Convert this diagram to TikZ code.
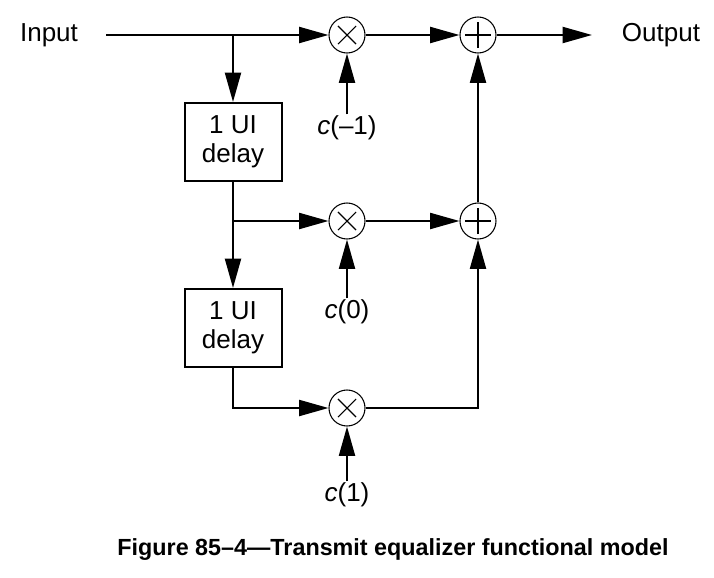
\documentclass[tikz,border=0pt]{standalone}
\usepackage{fontspec}
\setmainfont{Liberation Sans}
\usetikzlibrary{arrows.meta}

\begin{document}
\begin{tikzpicture}[x=0.75pt,y=-0.75pt,
    font=\fontsize{19.5}{22}\selectfont,
    sig/.style={line width=1.5pt,-{Triangle[length=22pt,width=12pt]}},
    wire/.style={line width=1.5pt},
    mult/.style={circle,draw,line width=0.8pt,minimum size=27pt,inner sep=0pt,
      path picture={\draw[line width=0.8pt]
        ([shift={(-6.8pt,-6.8pt)}]path picture bounding box.center) -- ([shift={(6.8pt,6.8pt)}]path picture bounding box.center)
        ([shift={(-6.8pt,6.8pt)}]path picture bounding box.center) -- ([shift={(6.8pt,-6.8pt)}]path picture bounding box.center);}},
    adder/.style={circle,draw,line width=0.8pt,minimum size=27pt,inner sep=0pt,
      path picture={\draw[line width=1.5pt]
        ([xshift=-9.8pt]path picture bounding box.center) -- ([xshift=9.8pt]path picture bounding box.center)
        ([yshift=-9.8pt]path picture bounding box.center) -- ([yshift=9.8pt]path picture bounding box.center);}},
    delaybox/.style={draw,line width=1.5pt,minimum width=72.75pt,minimum height=58.5pt,align=center,inner sep=0pt},
    coef/.style={inner sep=1pt}]
  \useasboundingbox (0,0) rectangle (714,578);

  \node (in) at (49,35) {Input};
  \coordinate (start) at (106,35);
  \coordinate (tap0) at (233,35);
  \node[mult] (m1) at (347,35) {};
  \node[adder] (a1) at (478,35) {};
  \coordinate (out) at (592,35);
  \node (outlbl) at (661,35) {Output};

  \node[delaybox] (d1) at (233,142) {1 UI\\delay};
  \coordinate (tap1) at (233,221);
  \node[mult] (m2) at (347,221) {};
  \node[adder] (a2) at (478,221) {};

  \node[delaybox] (d2) at (233,328) {1 UI\\delay};
  \node[mult] (m3) at (347,408) {};

  \node[coef] (c1) at (347,128) {{\itshape c}(–1)};
  \node[coef] (c2) at (347,312) {{\itshape c}(0)};
  \node[coef] (c3) at (347,495) {{\itshape c}(1)};

  % taps and delays
  \draw[sig] (start) -- (m1.west);
  \draw[sig] (tap0) -- (d1.north);
  \draw[wire] (d1.south) -- (tap1);
  \draw[sig] (tap1) -- (d2.north);
  \draw[sig] (tap1) -- (m2.west);
  \draw[sig] (d2.south) |- (m3.west);

  % coefficients
  \draw[sig] (c1.north) -- (m1.south);
  \draw[sig] (c2.north) -- (m2.south);
  \draw[sig] (c3.north) -- (m3.south);

  % summation
  \draw[sig] (m1.east) -- (a1.west);
  \draw[sig] (m2.east) -- (a2.west);
  \draw[sig] (m3.east) -| (a2.south);
  \draw[sig] (a2.north) -- (a1.south);
  \draw[sig] (a1.east) -- (out);

  \node[font=\fontsize{17.5}{21}\selectfont\bfseries] (caption) at (393,550)
    {Figure 85–4—Transmit equalizer functional model};
\end{tikzpicture}
\end{document}
